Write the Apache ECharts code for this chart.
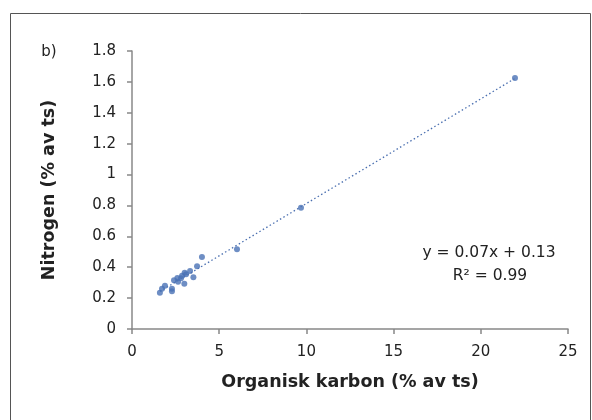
<!DOCTYPE html>
<html><head><meta charset="utf-8">
<script src="https://cdn.jsdelivr.net/npm/echarts@6/dist/echarts.min.js"></script>
<style>html,body{margin:0;padding:0;background:#fff}#c{width:592px;height:420px}</style>
</head><body><div id="c"></div>
<script>
const carbon = [1.6,1.72,1.89,2.29,2.29,2.41,2.6,2.64,2.81,2.87,3.0,3.02,3.1,3.33,3.52,3.73,4.01,6.02,9.69,21.96];
const nitrogen = [0.235,0.26,0.28,0.26,0.245,0.315,0.33,0.306,0.328,0.345,0.293,0.365,0.354,0.376,0.335,0.406,0.466,0.516,0.785,1.625];
const xTicks = [0,5,10,15,20,25];
const yTicks = [0,0.2,0.4,0.6,0.8,1,1.2,1.4,1.6,1.8];
const eqText = 'y = 0.07x + 0.13';
const r2Text = 'R² = 0.99';

const n = carbon.length;
const mx = carbon.reduce((a,b)=>a+b,0)/n, my = nitrogen.reduce((a,b)=>a+b,0)/n;
let sxy=0,sxx=0;
for(let i=0;i<n;i++){sxy+=(carbon[i]-mx)*(nitrogen[i]-my);sxx+=(carbon[i]-mx)**2;}
const slope=sxy/sxx, icpt=my-slope*mx;
const xmin=Math.min(...carbon), xmax=Math.max(...carbon);
const trend=[[xmin,icpt+slope*xmin],[xmax,icpt+slope*xmax]];

const font='"DejaVu Sans", sans-serif';
const chart=echarts.init(document.getElementById('c'));
chart.setOption({
  animation:false,
  grid:{left:132,right:24,top:51,bottom:91},
  xAxis:{type:'value',min:xTicks[0],max:xTicks[xTicks.length-1],interval:5,
    name:'Organisk karbon (% av ts)',nameLocation:'middle',nameGap:44,
    nameTextStyle:{fontFamily:font,fontWeight:'bold',fontSize:17.5,color:'#222'},
    axisLine:{lineStyle:{color:'#888',width:1.5}},
    axisTick:{show:true,inside:false,length:5,lineStyle:{color:'#888',width:1.5}},
    axisLabel:{fontFamily:font,fontSize:15,color:'#222',margin:16},
    splitLine:{show:false}},
  yAxis:{type:'value',min:yTicks[0],max:yTicks[yTicks.length-1],interval:0.2,
    name:'Nitrogen (% av ts)',nameLocation:'middle',nameGap:74,
    nameTextStyle:{fontFamily:font,fontWeight:'bold',fontSize:17.5,color:'#222'},
    axisLine:{show:true,lineStyle:{color:'#888',width:1.5}},
    axisTick:{show:true,inside:false,length:5,lineStyle:{color:'#888',width:1.5}},
    axisLabel:{fontFamily:font,fontSize:15,color:'#222',margin:16,
      formatter:v=>String(Math.round(v*10)/10)},
    splitLine:{show:false}},
  series:[
    {type:'line',data:trend,showSymbol:false,symbol:'none',
     lineStyle:{color:'#4a6fb0',width:1.3,type:[1.5,2.5]},z:1},
    {type:'scatter',data:carbon.map((c,i)=>[c,nitrogen[i]]),symbolSize:6,
     itemStyle:{color:'#4a72b5'},z:2}
  ],
  graphic:[
    {type:'rect',shape:{x:10.5,y:13.5,width:580,height:420},style:{fill:'none',stroke:'#555',lineWidth:1},z:-1},
    {type:'text',x:49,y:52,style:{text:'b)',font:'15px '+font,fill:'#222',align:'center',verticalAlign:'middle'}},
    {type:'text',x:489,y:253,style:{text:eqText,font:'15.5px '+font,fill:'#222',align:'center',verticalAlign:'middle'}},
    {type:'text',x:490,y:276,style:{text:r2Text,font:'15.5px '+font,fill:'#222',align:'center',verticalAlign:'middle'}}
  ]
});
</script></body></html>
